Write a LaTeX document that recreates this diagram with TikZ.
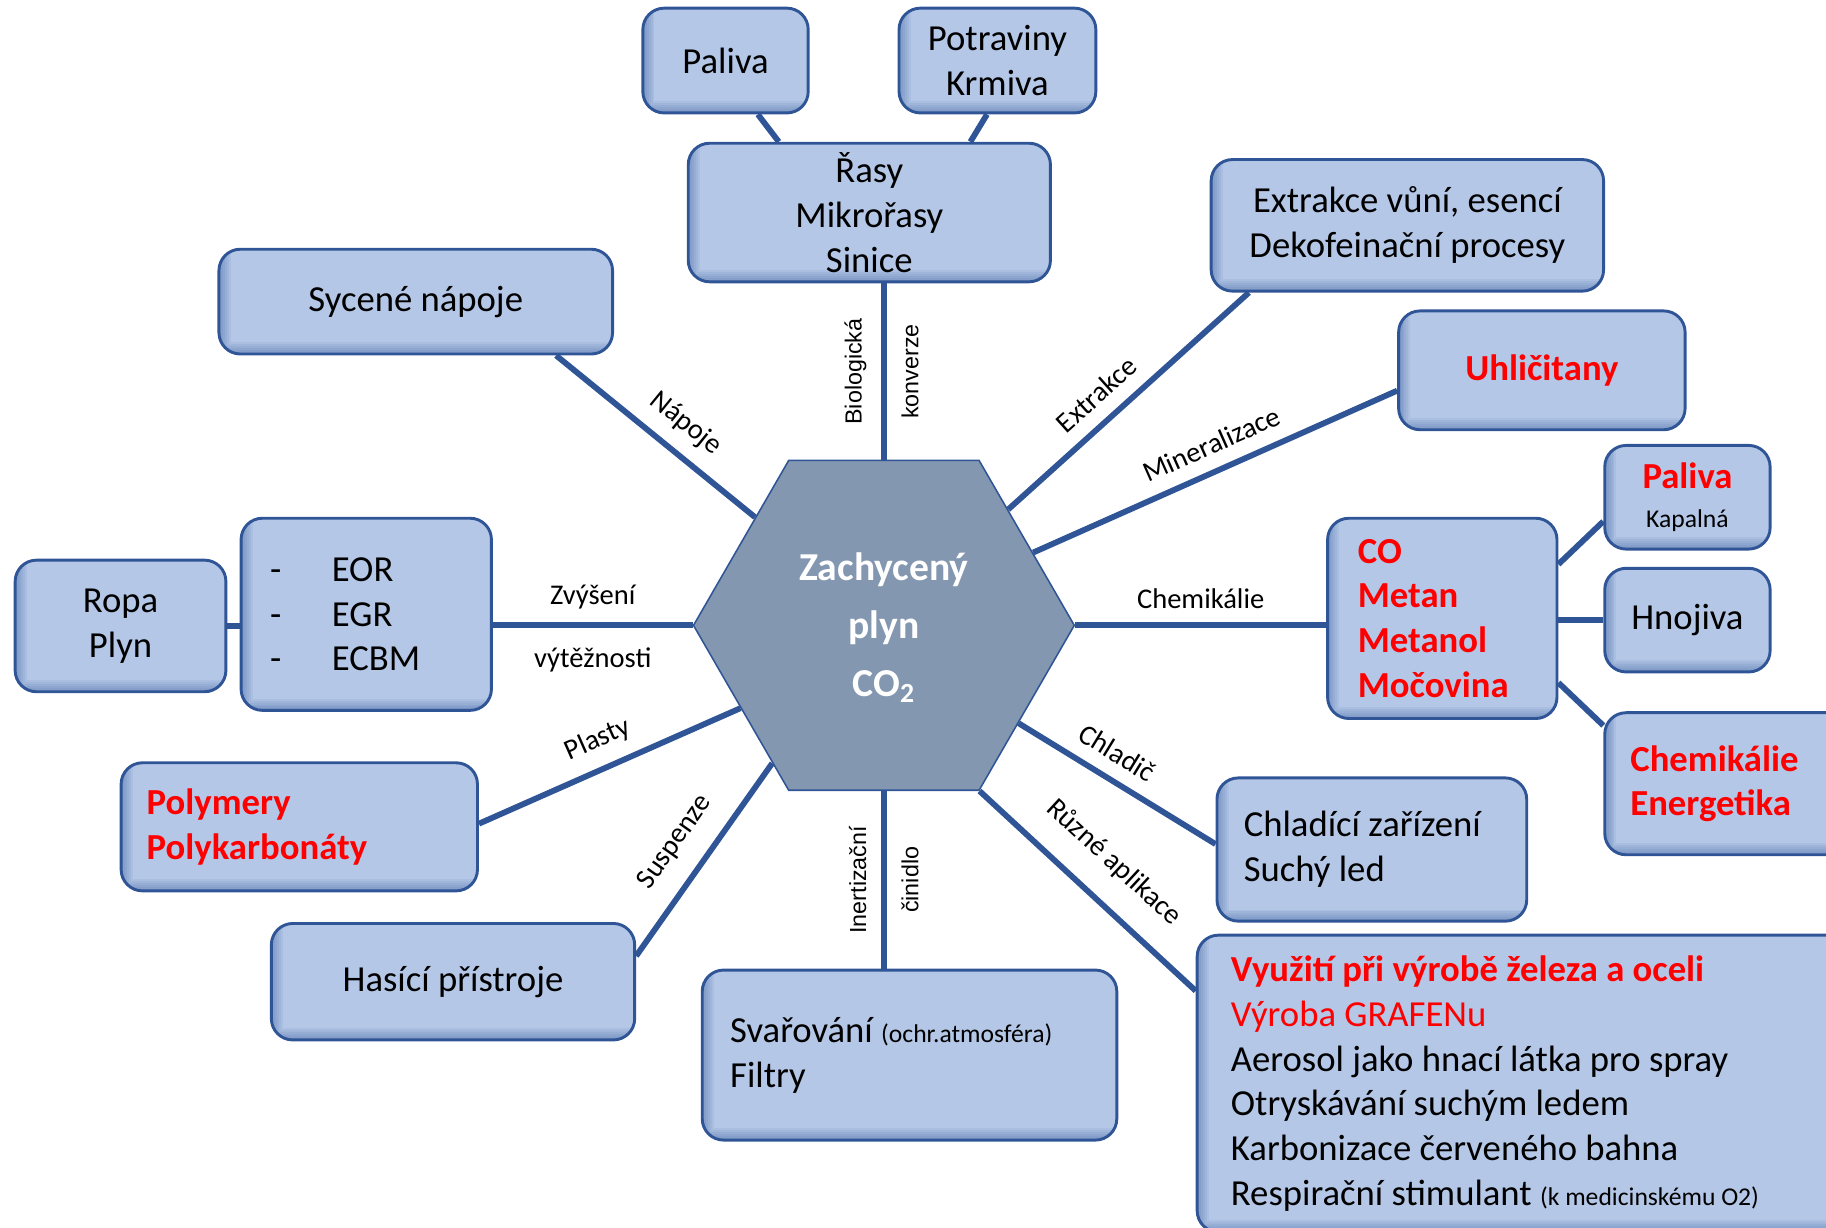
\documentclass[tikz,border=0pt]{standalone}
\usepackage{fontspec}
\setmainfont{Carlito}
\newfontfamily\arialfont{Liberation Sans}
\usetikzlibrary{shapes.geometric}
\definecolor{boxfill}{HTML}{B4C7E7}
\definecolor{boxline}{HTML}{2F5597}
\definecolor{hexfill}{HTML}{8497B0}
\definecolor{hl}{HTML}{FF0000}
\newcommand\boxtxt{\fontsize{18.9pt}{23.1pt}\selectfont}
\newcommand\labtxt{\fontsize{14.7pt}{17pt}\selectfont}
\newcommand\smalltxt{\fontsize{13.2pt}{15pt}\selectfont}
\newcommand\hextxt{\fontsize{20.4pt}{30pt}\selectfont\bfseries}
\newcommand\vertxt{\arialfont\fontsize{12pt}{14pt}\selectfont}
\newcommand\itemdash{\makebox[31.8pt][l]{-}}
\begin{document}
\begin{tikzpicture}[x=0.6pt,y=-0.6pt,
	box/.style={draw=boxline, line width=1.5pt, fill=boxfill, rounded corners=11pt, align=center, font=\boxtxt, inner sep=0pt,
		path picture={\foreach \w in {2,4,...,12}
			\draw[boxline, opacity=.08, line width=\w pt, sharp corners] (path picture bounding box.north west) -- (path picture bounding box.south west) -- (path picture bounding box.south east);}},
	redbox/.style={box, text=hl, font=\boxtxt\bfseries},
	hexa/.style={regular polygon, regular polygon sides=6, minimum size=196.2pt, fill=hexfill, draw=boxline, line width=0.8pt, inner sep=0pt, text=white, font=\hextxt},
	link/.style={draw=boxline, line width=3pt},
	lab/.style={font=\labtxt, inner sep=7pt},
	vlab/.style={font=\vertxt, inner sep=7.5pt, rotate=90}]
	\useasboundingbox (0,0) rectangle (1568,1054);
	\node[hexa] (hex) at (759,537) {\raisebox{-6pt}[0pt][0pt]{\begin{tabular}{@{}c@{}}Zachycený\\plyn\\CO\textsubscript{2}\end{tabular}}};
	\node[box, minimum width=85.2pt, minimum height=54pt] (pal) at (623,52) {Paliva};
	\node[box, minimum width=101.4pt, minimum height=54pt] (pot) at (856.5,52) {Potraviny\\Krmiva};
	\node[box, minimum width=186.6pt, minimum height=71.4pt] (ras) at (746.5,182.5) {Řasy\\Mikrořasy\\Sinice};
	\node[box, minimum width=202.8pt, minimum height=54pt] (syc) at (357,259) {Sycené nápoje};
	\node[box, minimum width=202.2pt, minimum height=67.8pt] (ext) at (1208.5,193.5) {Extrakce vůní, esencí\\Dekofeinační procesy};
	\node[redbox, minimum width=147.6pt, minimum height=61.2pt] (uhl) at (1324,318) {Uhličitany};
	\node[box, minimum width=85.2pt, minimum height=53.4pt] (palk) at (1449,427) {{\bfseries\color{hl}Paliva}\\[-2.7pt]{\smalltxt Kapalná}};
	\node[redbox, align=flush left, inner xsep=15.6pt, text width=87pt, minimum height=103.2pt] (co) at (1238.5,531) {CO\\Metan\\Metanol\\Močovina};
	\node[box, minimum width=85.2pt, minimum height=53.4pt] (hno) at (1449,532.5) {Hnojiva};
	\node[redbox, align=flush left, inner xsep=13.2pt, text width=100.8pt, minimum height=73.2pt] (che) at (1484,673) {Chemikálie\\Energetika};
	\node[box, align=flush left, inner xsep=13.8pt, text width=132pt, minimum height=73.8pt] (chl) at (1178,729.5) {Chladící zařízení\\Suchý led};
	\node[box, align=flush left, inner xsep=17.4pt, text width=320.4pt, minimum height=153pt] (vyu) at (1324,930.5) {{\color{hl}\bfseries Využití při výrobě železa a oceli}\\{\color{hl}Výroba GRAFENu}\\Aerosol jako hnací látka pro spray\\Otryskávání suchým ledem\\Karbonizace červeného bahna\\Respirační stimulant {\smalltxt(k medicinskému O2)}};
	\node[box, align=flush left, inner xsep=14.4pt, text width=184.8pt, minimum height=87.6pt] (sva) at (781,906) {Svařování {\smalltxt(ochr.atmosféra)}\\Filtry};
	\node[box, minimum width=187.2pt, minimum height=60pt] (has) at (389,843) {Hasící přístroje};
	\node[redbox, align=flush left, inner xsep=13.2pt, text width=157.2pt, minimum height=66pt] (pol) at (257,710) {Polymery\\Polykarbonáty};
	\node[box, align=flush left, inner xsep=15pt, text width=99pt, minimum height=99pt] (eor) at (314.5,527.5) {\itemdash EOR\\\itemdash EGR\\\itemdash ECBM};
	\node[box, minimum width=108.6pt, minimum height=67.8pt] (rop) at (103.5,537.5) {Ropa\\Plyn};
	\draw[link] (syc.-21) -- node[lab, pos=.56, sloped, above] {Nápoje} (hex.140);
	\draw[link] (hex.north) -- node[vlab, midway, anchor=south] {Biologická} node[vlab, midway, anchor=north] {konverze} (hex.north |- ras.south);
	\draw[link] (pal.-59) -- (ras.142);
	\draw[link] (pot.-101) -- (ras.35);
	\draw[link] (ext.-157) -- node[lab, pos=.56, sloped, above] {Extrakce} (hex.43);
	\draw[link] (hex.26) -- node[lab, pos=.52, sloped, above] {Mineralizace} (uhl.-172);
	\draw[link] (hex.east) -- node[lab, midway, above] {Chemikálie} (hex.east -| co.west);
	\draw[link] (co.25) -- (palk.-164);
	\draw[link] (co.east |- hno.west) -- (hno.west);
	\draw[link] (co.-29) -- (che.155);
	\draw[link] (hex.-36) -- node[lab, pos=.43, sloped, above] {Chladič} (chl.178);
	\draw[link] (hex.-60) -- node[lab, pos=.5, sloped, above, inner sep=12pt] {Různé aplikace} (vyu.165);
	\draw[link] (hex.south) -- node[vlab, midway, anchor=south] {Inertizační} node[vlab, midway, anchor=north] {činidlo} (hex.south |- sva.north);
	\draw[link] (hex.-129) -- node[lab, pos=.51, sloped, above, inner sep=10pt] {Suspenze} (has.8);
	\draw[link] (hex.-150) -- node[lab, pos=.5, sloped, above] {Plasty} (pol.1);
	\draw[link] (hex.west) -- node[lab, midway, above] {Zvýšení} node[lab, midway, below, inner sep=10pt] {výtěžnosti} (hex.west -| eor.east);
	\draw[link] (rop.east) -- (rop.east -| eor.west);
\end{tikzpicture}
\end{document}
